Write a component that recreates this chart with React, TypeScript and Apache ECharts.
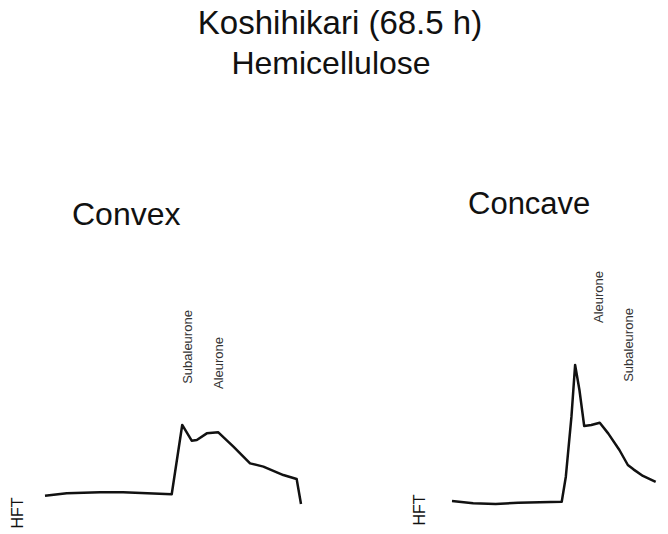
import React, { useEffect, useRef } from "react";
import * as echarts from "echarts";

// Hemicellulose intensity profiles across the grain section (position, relative intensity)
const convexPosition = [0, 8.5, 21.5, 30.5, 49.5, 53.6, 57.3, 59.3, 63.2, 67.7, 73.6, 80.1, 85.3, 93.1, 98.3, 100];
const convexIntensity = [9.5, 11.1, 11.8, 11.8, 10.5, 56.7, 46.2, 46.7, 51.1, 51.8, 42.2, 31.1, 28.9, 23.3, 20.7, 4];

const concavePosition = [0, 9.8, 20.2, 30.6, 50.8, 52.7, 55.3, 57, 59, 61.2, 64.5, 68.4, 72.3, 77.5, 81.4, 84, 88.4, 94.3];
const concaveIntensity = [6, 4.5, 4, 4.9, 5.5, 22.2, 62.2, 96.7, 80, 56, 56.7, 58.2, 51.1, 40, 30, 27.1, 22.7, 18.7];

const titleLines = ["Koshihikari (68.5 h)", "Hemicellulose"];
const panelNames = ["Convex", "Concave"];
const baseLabel = "HFT";
const convexPeakLabels = ["Subaleurone", "Aleurone"];
const concavePeakLabels = ["Aleurone", "Subaleurone"];

const FONT = '"Liberation Sans", Arial, Helvetica, sans-serif';

function pairs(xs: number[], ys: number[]) {
  return xs.map((x, i) => [x, ys[i]]);
}

export default function App() {
  const ref = useRef<HTMLDivElement>(null);

  useEffect(() => {
    if (!ref.current) return;
    const chart = echarts.init(ref.current, null, { renderer: "svg" });

    const axisX = (gridIndex: number) => ({
      type: "value" as const,
      gridIndex,
      min: 0,
      max: 100,
      show: false,
    });
    const axisY = (gridIndex: number) => ({
      type: "value" as const,
      gridIndex,
      min: 0,
      max: 100,
      show: false,
    });

    const lineSeries = (idx: number, data: number[][]) => ({
      type: "line" as const,
      xAxisIndex: idx,
      yAxisIndex: idx,
      data,
      symbol: "none",
      smooth: false,
      lineStyle: { color: "#111", width: 2.5, join: "round" as const },
      clip: true,
    });

    const text = (
      t: string,
      x: number,
      y: number,
      size: number,
      align: string,
      rotation = 0,
      fill = "#111"
    ) => ({
      type: "text" as const,
      x,
      y,
      rotation,
      style: {
        text: t,
        fontSize: size,
        fontFamily: FONT,
        fill,
        align,
        verticalAlign: "middle",
      },
    });

    chart.setOption({
      animation: false,
      backgroundColor: "#fff",
      grid: [
        { left: 45, top: 360, width: 256, height: 150 },
        { left: 452, top: 360, width: 256, height: 150 },
      ],
      xAxis: [axisX(0), axisX(1)],
      yAxis: [axisY(0), axisY(1)],
      series: [
        lineSeries(0, pairs(convexPosition, convexIntensity)),
        lineSeries(1, pairs(concavePosition, concaveIntensity)),
      ],
      graphic: [
        text(titleLines[0], 340, 22, 33, "center"),
        text(titleLines[1], 331, 63, 32, "center"),
        text(panelNames[0], 72, 214, 32, "left"),
        text(panelNames[1], 468, 203, 31, "left"),
        text(baseLabel, 17, 513, 16, "center", Math.PI / 2),
        text(baseLabel, 419, 510, 16, "center", Math.PI / 2),
        text(convexPeakLabels[0], 187, 347, 13, "center", Math.PI / 2, "#333"),
        text(convexPeakLabels[1], 218, 363, 13, "center", Math.PI / 2, "#333"),
        text(concavePeakLabels[0], 598, 297, 13, "center", Math.PI / 2, "#333"),
        text(concavePeakLabels[1], 628, 345, 13, "center", Math.PI / 2, "#333"),
      ],
    });

    return () => chart.dispose();
  }, []);

  return (
    <div
      ref={ref}
      style={{ position: "absolute", left: 0, top: 0, width: 668, height: 534 }}
    />
  );
}
